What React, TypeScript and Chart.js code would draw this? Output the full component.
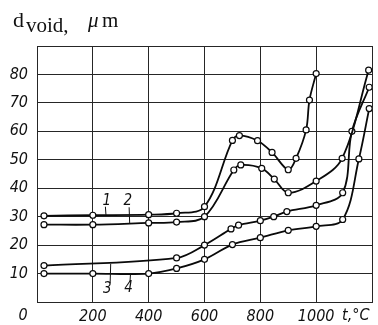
import React, { useEffect, useRef } from 'react';
import { Chart, registerables } from 'chart.js';

Chart.register(...registerables);

// Temperature, °C (x) and void diameter, µm (y)
const curve1X = [25, 200, 400, 500, 600, 700, 725, 790, 842, 900, 928, 964, 976, 1000];
const curve1Y = [30.3, 30.5, 30.7, 31.2, 33.5, 56.8, 58.5, 56.7, 52.6, 46.5, 50.5, 60.5, 71, 80.3];
const curve2X = [25, 200, 400, 500, 600, 705, 730, 805, 850, 900, 1000, 1093, 1188];
const curve2Y = [27.2, 27.2, 27.8, 28.1, 30, 46.4, 48.2, 47, 43.2, 38.4, 42.5, 50.5, 81.5];
const curve3X = [25, 500, 600, 695, 722, 800, 848, 895, 1000, 1095, 1128, 1190];
const curve3Y = [12.8, 15.5, 20, 25.7, 27, 28.6, 30, 31.8, 34, 38.4, 60, 75.5];
const curve4X = [25, 200, 400, 500, 600, 700, 800, 900, 1000, 1095, 1153, 1190];
const curve4Y = [10, 10, 10, 11.8, 15, 20.2, 22.6, 25.2, 26.6, 29, 50.3, 68];

const xTicks = [0, 200, 400, 600, 800, 1000, 1200];
const xTickLabels = ['', '200', '400', '600', '800', '1000', ''];
const yTicks = [0, 10, 20, 30, 40, 50, 60, 70, 80, 90];
const yTickLabels = ['', '10', '20', '30', '40', '50', '60', '70', '80', ''];

const curveNames = ['1', '2', '3', '4'];

const NUM_FONT = "'Liberation Sans Narrow', 'DejaVu Sans Condensed', 'Liberation Sans', sans-serif";
const SERIF = "'Liberation Serif', 'DejaVu Serif', serif";

const toPoints = (xs: number[], ys: number[]) => xs.map((x, i) => ({ x, y: ys[i] }));

const textPlugin = {
  id: 'annotText',
  afterDraw(chart: any) {
    const ctx = chart.ctx as CanvasRenderingContext2D;
    const xs = chart.scales.x;
    const ys = chart.scales.y;
    ctx.save();
    ctx.fillStyle = '#111';
    ctx.strokeStyle = '#111';
    // title
    ctx.textBaseline = 'alphabetic';
    ctx.textAlign = 'left';
    ctx.font = `22px ${SERIF}`;
    ctx.fillText('d', 13, 27);
    ctx.font = `21px ${SERIF}`;
    ctx.fillText('void,', 26, 32);
    ctx.font = `italic 21px ${SERIF}`;
    ctx.fillText('\u03bc', 88, 27);
    ctx.font = `21px ${SERIF}`;
    ctx.fillText('m', 102, 27);

    // axis end labels
    ctx.font = `italic 16px ${NUM_FONT}`;
    ctx.textBaseline = 'middle';
    ctx.textAlign = 'center';
    ctx.fillText('0', xs.getPixelForValue(0) - 14, 316);
    ctx.textAlign = 'left';
    ctx.fillText('t,\u00b0C', xs.getPixelForValue(1200) - 30, 316);

    // curve numbers with leader lines
    ctx.font = `italic 15px ${NUM_FONT}`;
    ctx.textAlign = 'center';
    const labels = [
      { n: curveNames[0], x: 250, y: 35.3, lx: 245, ly0: 33.5, ly1: 30.6 },
      { n: curveNames[1], x: 325, y: 35.3, lx: 330, ly0: 33.3, ly1: 27.6 },
      { n: curveNames[2], x: 252, y: 4.5, lx: 262, ly0: 6.7, ly1: 13.4 },
      { n: curveNames[3], x: 328, y: 4.8, lx: 333, ly0: 7.0, ly1: 10.0 },
    ];
    ctx.lineWidth = 1;
    for (const l of labels) {
      ctx.fillText(l.n, xs.getPixelForValue(l.x), ys.getPixelForValue(l.y));
      ctx.beginPath();
      ctx.moveTo(xs.getPixelForValue(l.lx), ys.getPixelForValue(l.ly0));
      ctx.lineTo(xs.getPixelForValue(l.lx + 2), ys.getPixelForValue(l.ly1));
      ctx.stroke();
    }
    ctx.restore();
  },
};

export default function App() {
  const ref = useRef<HTMLCanvasElement | null>(null);
  useEffect(() => {
    if (!ref.current) return;
    const ds = (xs: number[], ys: number[]) => ({
      data: toPoints(xs, ys),
      borderColor: '#0a0a0a',
      borderWidth: 1.8,
      tension: 0.35,
      pointRadius: 3,
      pointBackgroundColor: '#ffffff',
      pointBorderColor: '#0a0a0a',
      pointBorderWidth: 1.2,
      fill: false,
    });
    const chart = new Chart(ref.current, {
      type: 'line',
      data: {
        datasets: [
          { label: curveNames[0], ...ds(curve1X, curve1Y) },
          { label: curveNames[1], ...ds(curve2X, curve2Y) },
          { label: curveNames[2], ...ds(curve3X, curve3Y) },
          { label: curveNames[3], ...ds(curve4X, curve4Y) },
        ],
      },
      options: {
        animation: false,
        responsive: false,
        maintainAspectRatio: false,
        layout: { padding: { top: 46, right: 6, left: 0, bottom: 0 } },
        plugins: {
          legend: { display: false },
          tooltip: { enabled: false },
          title: { display: false },
        },
        scales: {
          x: {
            type: 'linear',
            min: 0,
            max: 1200,
            afterBuildTicks: (s: any) => {
              s.ticks = xTicks.map((v) => ({ value: v }));
            },
            afterFit: (s: any) => {
              s.height = 23;
            },
            grid: { color: '#262626', lineWidth: 1, drawTicks: false },
            border: { display: true, color: '#262626', width: 1 },
            ticks: {
              autoSkip: false,
              maxRotation: 0,
              padding: 5,
              color: '#111',
              font: { family: NUM_FONT, size: 16, style: 'italic' },
              callback: (v: any) => xTickLabels[xTicks.indexOf(Number(v))] ?? '',
            },
          },
          y: {
            type: 'linear',
            min: 0,
            max: 90,
            afterBuildTicks: (s: any) => {
              s.ticks = yTicks.map((v) => ({ value: v }));
            },
            afterFit: (s: any) => {
              s.width = 37;
            },
            grid: { color: '#262626', lineWidth: 1, drawTicks: false },
            border: { display: true, color: '#262626', width: 1 },
            ticks: {
              autoSkip: false,
              padding: 9,
              color: '#111',
              font: { family: NUM_FONT, size: 16, style: 'italic' },
              callback: (v: any) => yTickLabels[yTicks.indexOf(Number(v))] ?? '',
            },
          },
        },
      } as any,
      plugins: [textPlugin],
    });
    return () => chart.destroy();
  }, []);
  return (
    <div style={{ position: 'fixed', left: 0, top: 0, width: 378, height: 325, background: '#fff' }}>
      <canvas ref={ref} width={378} height={325} style={{ display: 'block', width: 378, height: 325 }} />
    </div>
  );
}
